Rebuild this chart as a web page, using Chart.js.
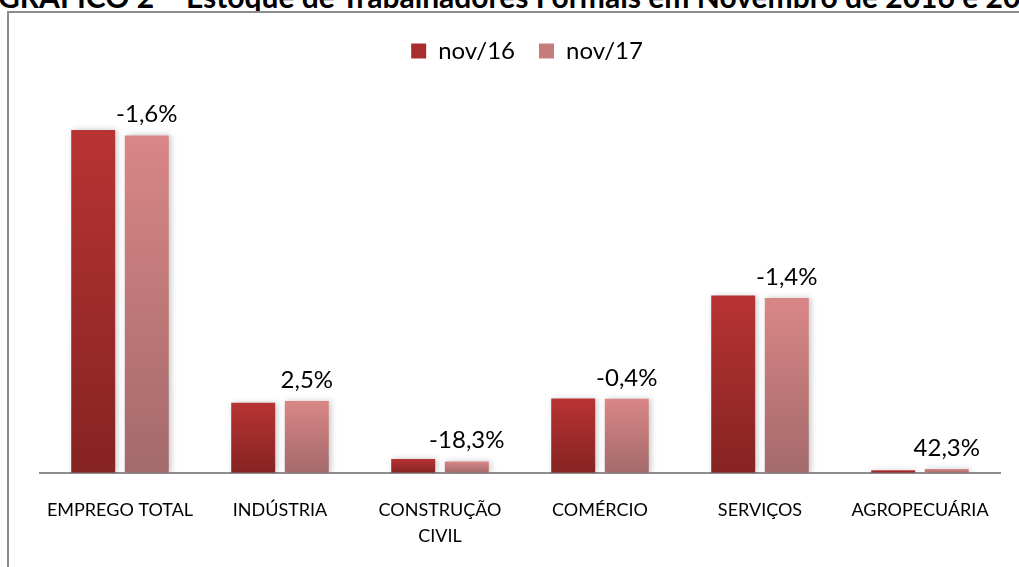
<!DOCTYPE html>
<html>
<head>
<meta charset="utf-8">
<script src="https://cdn.jsdelivr.net/npm/chart.js@4/dist/chart.umd.min.js"></script>
<style>
  html, body { margin: 0; padding: 0; background: #fff; overflow: hidden; width: 1019px; height: 567px; }
  #title { position: absolute; left: -2px; top: -19px; font: bold 30px Lato, sans-serif; line-height: 30px; white-space: nowrap; color: #000; }
  #frame { position: absolute; left: 7px; top: 11px; width: 1040px; height: 620px; border: 2px solid #8c8c8c; }
  #wrap { position: absolute; left: 0; top: 0; width: 1030px; height: 578px; }
</style>
</head>
<body>
<div id="title">GRÁFICO 2 – Estoque de Trabalhadores Formais em Novembro de 2016 e 2017</div>
<div id="frame"><div id="wrap"><canvas id="chart"></canvas></div></div>
<script>
const categories = ['EMPREGO TOTAL', 'INDÚSTRIA', ['CONSTRUÇÃO', 'CIVIL'], 'COMÉRCIO', 'SERVIÇOS', 'AGROPECUÁRIA'];
const nov16 = [343, 70.2, 13.7, 74.3, 177.3, 2.6];
const nov17 = [337.5, 71.95, 11.2, 74.0, 174.8, 3.7];
const variation = ['-1,6%', '2,5%', '-18,3%', '-0,4%', '-1,4%', '42,3%'];

// gradient per bar, top lighter -> bottom darker
function barGradient(top, bottom) {
  return (context) => {
    const chart = context.chart;
    const y = chart.scales.y;
    if (!y || context.parsed === undefined) return top;
    const y0 = y.getPixelForValue(context.parsed.y);
    const y1 = y.getPixelForValue(0);
    if (!isFinite(y0) || !isFinite(y1) || y0 === y1) return top;
    const g = chart.ctx.createLinearGradient(0, y0, 0, y1);
    g.addColorStop(0, top);
    g.addColorStop(1, bottom);
    return g;
  };
}

const barShadow = {
  id: 'barShadow',
  beforeDatasetsDraw(chart) {
    const ctx = chart.ctx;
    ctx.save();
    ctx.shadowColor = 'rgba(0,0,0,0.22)';
    ctx.shadowBlur = 6;
    ctx.shadowOffsetX = 2;
    ctx.shadowOffsetY = 0;
  },
  afterDatasetsDraw(chart) {
    chart.ctx.restore();
  }
};

const variationLabels = {
  id: 'variationLabels',
  afterDatasetsDraw(chart) {
    const ctx = chart.ctx;
    const meta = chart.getDatasetMeta(1);
    ctx.save();
    ctx.font = '24px Lato, sans-serif';
    ctx.fillStyle = '#000';
    ctx.textAlign = 'center';
    ctx.textBaseline = 'middle';
    meta.data.forEach((bar, i) => {
      ctx.fillText(variation[i], bar.x, bar.y - 21);
    });
    ctx.restore();
  }
};

new Chart(document.getElementById('chart'), {
  type: 'bar',
  data: {
    labels: categories,
    datasets: [
      { label: 'nov/16', data: nov16, backgroundColor: barGradient('#b83333', '#862323') },
      { label: 'nov/17', data: nov17, backgroundColor: barGradient('#d98686', '#a46a6a') }
    ]
  },
  options: {
    responsive: true,
    maintainAspectRatio: false,
    animation: false,
    datasets: { bar: { categoryPercentage: 0.67, barPercentage: 0.82 } },
    layout: { padding: { left: 31, right: 25, top: 2, bottom: 18 } },
    plugins: {
      tooltip: { enabled: false },
      legend: {
        position: 'top',
        labels: {
          boxWidth: 15, boxHeight: 15, padding: 24,
          color: '#000',
          font: { family: 'Lato', size: 24 },
          generateLabels(chart) {
            const fills = ['#a82e2e', '#c77c7c'];
            return chart.data.datasets.map((ds, i) => ({
              text: ds.label, fillStyle: fills[i], strokeStyle: fills[i], lineWidth: 0, datasetIndex: i
            }));
          }
        }
      }
    },
    scales: {
      x: {
        grid: { display: false, drawTicks: false },
        border: { display: true, color: '#8c8c8c', width: 2 },
        ticks: { color: '#000', padding: 24, maxRotation: 0, autoSkip: false, font: { family: 'Lato', size: 18, lineHeight: 1.45 } }
      },
      y: { display: false, min: 0, max: 400 },
      // empty spacer on the right so the legend sits a bit right of the plot centre
      y2: {
        position: 'right',
        grid: { display: false },
        border: { display: false },
        ticks: { display: false },
        afterFit(scale) { scale.width = 14; }
      }
    }
  },
  plugins: [barShadow, variationLabels]
});
</script>
</body>
</html>
